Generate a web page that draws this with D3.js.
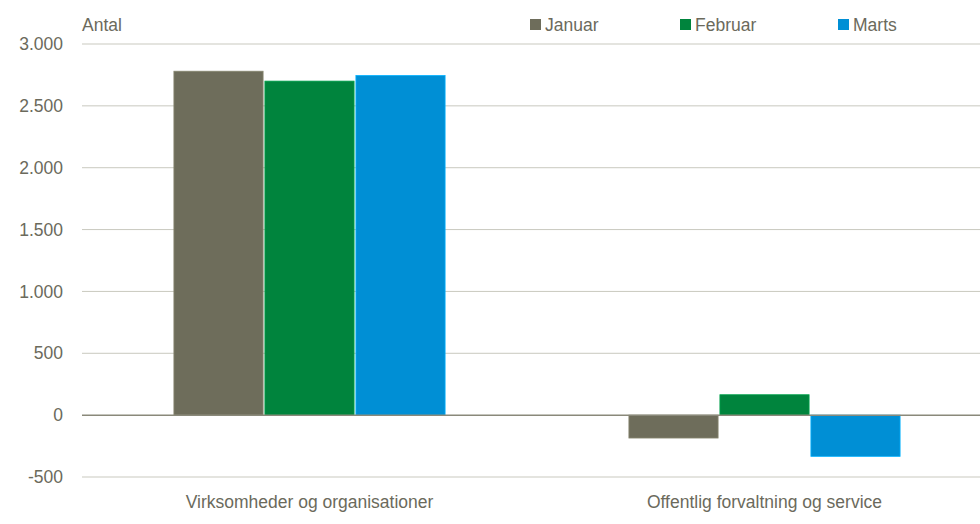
<!DOCTYPE html>
<html><head><meta charset="utf-8">
<script src="https://cdn.jsdelivr.net/npm/d3@7"></script>
<style>body{margin:0;background:#fff}svg{display:block}text{font-family:"Liberation Sans",Arial,sans-serif;fill:#6b6a5c}</style>
</head><body><svg id="c" width="980" height="524"></svg>
<script>
const categories = ["Virksomheder og organisationer", "Offentlig forvaltning og service"];
const seriesNames = ["Januar", "Februar", "Marts"];
const januar = [2780, -185];
const februar = [2700, 165];
const marts = [2745, -333];
const yTicks = [-500, 0, 500, 1000, 1500, 2000, 2500, 3000];
const colors = ["#6e6d5b", "#00843d", "#008fd5"];

const series = [januar, februar, marts];
const svg = d3.select("#c");
const FS = 17.5;
const x0 = d3.scaleBand().domain(categories).range([82, 992]).paddingInner(0).paddingOuter(0);
const x1 = d3.scaleBand().domain(seriesNames).range([0, x0.bandwidth()]).paddingOuter(1.01).paddingInner(0.02);
const y = d3.scaleLinear().domain([-500, 3000]).range([477, 44]);

const fmt = v => d3.format(",")(v).replace(/,/g, ".").replace("\u2212", "-");
// gridlines
svg.append("g").selectAll("line").data(yTicks.filter(t => t !== 0)).join("line")
  .attr("x1", 82).attr("x2", 980).attr("y1", d => y(d)).attr("y2", d => y(d))
  .attr("stroke", "#c9c9bf").attr("stroke-width", 1);
// y axis labels
const yAxis = d3.axisLeft(y).tickValues(yTicks).tickFormat(fmt).tickSize(0).tickPadding(0);
const ga = svg.append("g").attr("transform", "translate(63,0)").call(yAxis);
ga.select(".domain").remove();
ga.selectAll("text").attr("font-size", FS).style("fill", "#6b6a5c").style("font-family", '"Liberation Sans",Arial,sans-serif');

// bars
const g = svg.append("g");
categories.forEach((c, ci) => {
  seriesNames.forEach((s, si) => {
    const v = series[si][ci];
    g.append("rect")
      .attr("x", x0(c) + x1(s))
      .attr("width", x1.bandwidth())
      .attr("y", y(Math.max(0, v)))
      .attr("height", Math.abs(y(v) - y(0)))
      .attr("fill", colors[si])
      .attr("stroke", d3.color(colors[si]).brighter(0.6))
      .attr("stroke-width", 0.8);
  });
});
// zero line
svg.append("line").attr("x1", 82).attr("x2", 980).attr("y1", y(0)).attr("y2", y(0))
  .attr("stroke", "#8a897a").attr("stroke-width", 1.5);

// x axis labels
const xAxis = d3.axisBottom(x0).tickSize(0).tickPadding(0);
const gx = svg.append("g").attr("transform", "translate(0,508)").call(xAxis);
gx.select(".domain").remove();
gx.selectAll("text").attr("font-size", FS).attr("dy", 0).style("fill", "#6b6a5c").style("font-family", '"Liberation Sans",Arial,sans-serif');

// axis title
svg.append("text").attr("x", 82).attr("y", 31).attr("font-size", FS).text("Antal");

// legend
const legX = [530, 680, 838];
seriesNames.forEach((s, i) => {
  svg.append("rect").attr("x", legX[i]).attr("y", 19).attr("width", 11).attr("height", 11).attr("fill", colors[i]);
  svg.append("text").attr("x", legX[i] + 15).attr("y", 31).attr("font-size", FS).text(s);
});
</script></body></html>
